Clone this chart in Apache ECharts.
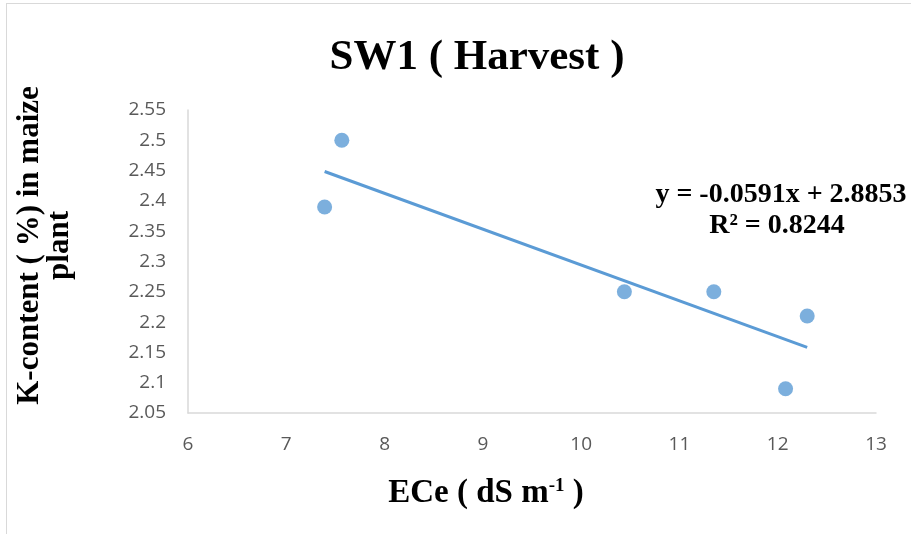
<!DOCTYPE html>
<html>
<head>
<meta charset="utf-8">
<script src="https://cdn.jsdelivr.net/npm/echarts@6/dist/echarts.min.js"></script>
<style>
  html, body { margin: 0; padding: 0; background: #fff; }
  #chart { width: 911px; height: 534px; }
  #frame { position: absolute; left: 6px; top: 3px; width: 910px; height: 540px; border: 1px solid #d9d9d9; box-sizing: border-box; pointer-events: none; }
</style>
</head>
<body>
<div id="chart"></div>
<div id="frame"></div>
<script>
// K-content vs ECe, SW1 harvest
const ece = [7.39, 7.565, 10.44, 11.35, 12.08, 12.30];
const kContent = [2.39, 2.5, 2.25, 2.25, 2.09, 2.21];
const slope = -0.0591;
const intercept = 2.8853;
const xTicks = { min: 6, max: 13, step: 1 };
const yTicks = { min: 2.05, max: 2.55, step: 0.05 };

const points = ece.map((x, i) => [x, kContent[i]]);
const xLo = Math.min(...ece), xHi = Math.max(...ece);
const trend = [[xLo, slope * xLo + intercept], [xHi, slope * xHi + intercept]];

const chart = echarts.init(document.getElementById('chart'));
const serif = '"Liberation Serif", "Times New Roman", serif';
const tickFont = { color: '#595959', fontSize: 19, fontFamily: '"Open Sans", sans-serif' };

chart.setOption({
  animation: false,
  title: {
    text: 'SW1 ( Harvest )',
    left: 472, top: 31, textAlign: 'center',
    textStyle: { fontFamily: serif, fontWeight: 'bold', fontSize: 43, color: '#000' }
  },
  grid: { left: 188, right: 35, top: 110, bottom: 121 },
  xAxis: {
    type: 'value', min: xTicks.min, max: xTicks.max, interval: xTicks.step,
    axisLine: { lineStyle: { color: '#d9d9d9', width: 1.5 } },
    axisTick: { show: false }, splitLine: { show: false },
    axisLabel: Object.assign({ margin: 22 }, tickFont),
    name: '{a|ECe ( dS m}{s|-1}{a| )}',
    nameLocation: 'middle', nameGap: 64,
    nameTextStyle: {
      padding: [0, 92, 0, 0],
      rich: {
        a: { fontFamily: serif, fontWeight: 'bold', fontSize: 33, color: '#000' },
        s: { fontFamily: serif, fontWeight: 'bold', fontSize: 19, color: '#000', verticalAlign: 'top', padding: [0, 0, 14, 0] }
      }
    }
  },
  yAxis: {
    type: 'value', min: yTicks.min, max: yTicks.max, interval: yTicks.step,
    axisLine: { show: true, lineStyle: { color: '#d9d9d9', width: 1.5 } },
    axisTick: { show: false }, splitLine: { show: false },
    axisLabel: Object.assign({ margin: 22, formatter: v => String(+v.toFixed(2)) }, tickFont),
    name: 'K-content ( %) in maize\nplant',
    nameLocation: 'middle', nameGap: 113,
    nameTextStyle: { fontFamily: serif, fontWeight: 'bold', fontSize: 31, color: '#000', lineHeight: 30, padding: [0, 0, 0, 32] }
  },
  series: [
    {
      type: 'line', data: trend, showSymbol: false, symbol: 'none',
      lineStyle: { color: '#5b9bd5', width: 3 }, z: 2
    },
    {
      type: 'scatter', data: points, symbolSize: 15,
      itemStyle: { color: '#5b9bd5' }, z: 3
    }
  ],
  graphic: [
    {
      type: 'text', x: 781, y: 195,
      style: { text: 'y = -0.0591x + 2.8853', font: 'bold 28px ' + serif, fill: '#000', align: 'center', verticalAlign: 'middle' }
    },
    {
      type: 'text', x: 777, y: 226,
      style: { text: 'R² = 0.8244', font: 'bold 28px ' + serif, fill: '#000', align: 'center', verticalAlign: 'middle' }
    }
  ]
});
</script>
</body>
</html>
